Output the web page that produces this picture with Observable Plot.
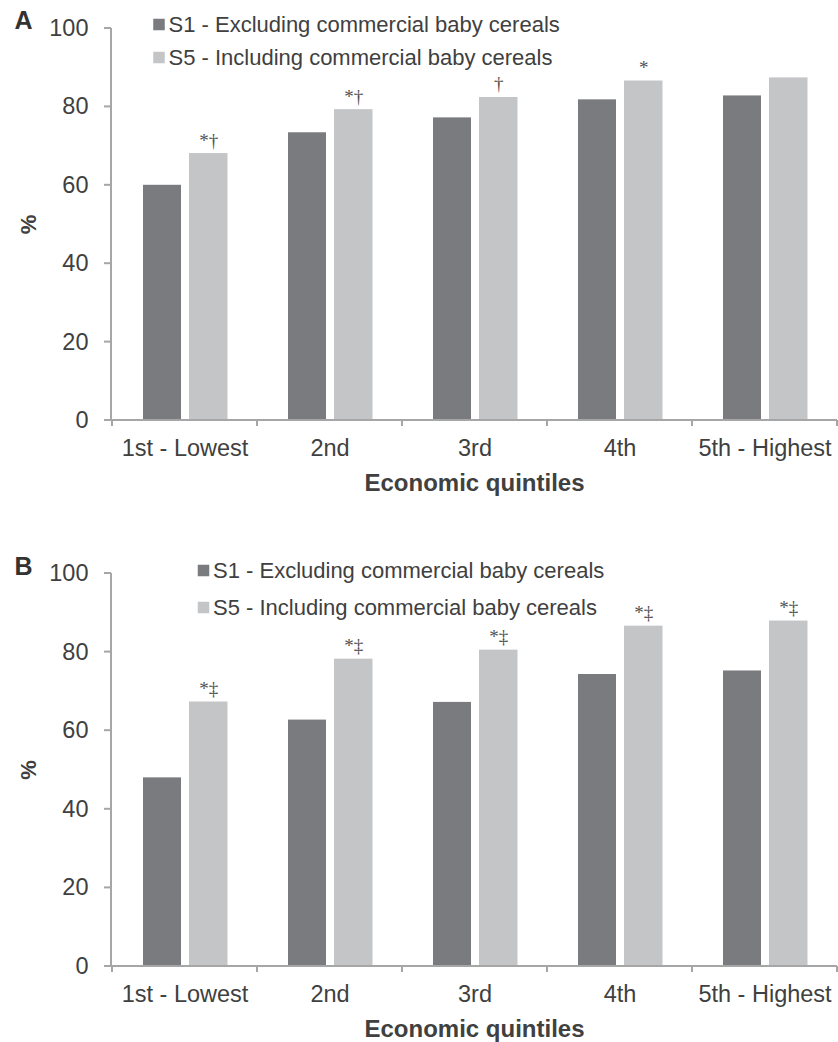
<!DOCTYPE html>
<html>
<head>
<meta charset="utf-8">
<script src="https://cdn.jsdelivr.net/npm/d3@7"></script>
<script src="https://cdn.jsdelivr.net/npm/@observablehq/plot@0.6"></script>
<style>
  html, body { margin: 0; padding: 0; background: #fff; }
  #chart { width: 838px; }
  #chart svg { display: block; }
</style>
</head>
<body>
<div id="chart"></div>
<script>
// ---- data ----
const quintiles = ["1st - Lowest", "2nd", "3rd", "4th", "5th - Highest"];
const seriesNames = ["S1 - Excluding commercial baby cereals", "S5 - Including commercial baby cereals"];
const yTicks = [0, 20, 40, 60, 80, 100];
const panelA_S1 = [60.0, 73.4, 77.2, 81.8, 82.8];
const panelA_S5 = [68.1, 79.3, 82.4, 86.6, 87.4];
const panelA_marks = ["*†", "*†", "†", "*", ""];
const panelB_S1 = [48.0, 62.7, 67.2, 74.3, 75.2];
const panelB_S5 = [67.3, 78.2, 80.5, 86.6, 87.9];
const panelB_marks = ["*‡", "*‡", "*‡", "*‡", "*‡"];
const xTitle = "Economic quintiles";
const yTitle = "%";

// ---- style ----
const C1 = "#7a7b7f", C5 = "#c4c5c7", AXIS = "#a6a6a6", TEXT = "#404040";
const FONT = "'Liberation Sans', Arial, sans-serif";
const SERIF = "'Liberation Serif', 'Times New Roman', serif";

function axisLines(index, scales, values, dims) {
  const x = scales.x, y = scales.y;
  const bw = x.bandwidth();
  const left = dims.marginLeft, right = dims.width - dims.marginRight;
  const g = d3.create("svg:g").attr("stroke", AXIS).attr("stroke-width", 2).attr("fill", "none");
  g.append("line").attr("x1", left).attr("x2", left).attr("y1", y(100)).attr("y2", y(0));
  for (const t of yTicks) {
    g.append("line").attr("x1", left - 7).attr("x2", left).attr("y1", y(t)).attr("y2", y(t));
  }
  g.append("line").attr("x1", left - 7).attr("x2", right).attr("y1", y(0)).attr("y2", y(0));
  const bounds = quintiles.map(q => x(q)).concat([x(quintiles[quintiles.length - 1]) + bw]);
  for (const b of bounds) {
    g.append("line").attr("x1", b).attr("x2", b).attr("y1", y(0)).attr("y2", y(0) + 6);
  }
  return g.node();
}

function panel(label, s1, s5, marks, opts) {
  const rows = quintiles.map((q, i) => ({q, s1: s1[i], s5: s5[i], mark: marks[i]}));
  return Plot.plot({
    width: 838,
    height: opts.height,
    marginLeft: 111,
    marginRight: 1,
    marginTop: opts.marginTop,
    marginBottom: opts.marginBottom,
    style: {fontFamily: FONT, color: TEXT, background: "#fff", overflow: "visible"},
    x: {type: "band", domain: quintiles, padding: 0, axis: null},
    y: {domain: [0, 100], axis: null},
    marks: [
      Plot.barY(rows, {x: "q", y: "s5", fill: C5, insetLeft: 77, insetRight: 29.5}),
      Plot.barY(rows, {x: "q", y: "s1", fill: C1, insetLeft: 31, insetRight: 76}),
      axisLines,
      Plot.text(rows, {x: "q", y: "s5", text: "mark", dx: 23.8, dy: -7, lineAnchor: "bottom", fontSize: 19, fontFamily: SERIF, fill: "#505050"}),
      // y tick labels
      Plot.text(yTicks, {y: d => d, text: d => String(d), frameAnchor: "left", dx: -23, textAnchor: "end", lineAnchor: "middle", fontSize: 23.5, fill: TEXT}),
      // x tick labels
      Plot.text(quintiles, {x: d => d, text: d => d, frameAnchor: "bottom", dy: 28, lineAnchor: "middle", fontSize: 23.5, fill: TEXT}),
      // axis titles
      Plot.text([xTitle], {frameAnchor: "bottom", dy: 63, lineAnchor: "middle", textAnchor: "middle", fontSize: 24, fontWeight: "bold", fill: TEXT}),
      Plot.text([yTitle], {frameAnchor: "left", dx: -83, rotate: -90, textAnchor: "middle", lineAnchor: "middle", fontSize: 22, fontWeight: "bold", fill: TEXT}),
      // panel label
      Plot.text([label], {frameAnchor: "top-left", dx: -88, dy: opts.labelDy, textAnchor: "middle", lineAnchor: "middle", fontSize: 25, fontWeight: "bold", fill: "#333"}),
      // legend
      Plot.dot([seriesNames[0]], {frameAnchor: "top-left", dx: opts.legDx, dy: opts.leg1Dy, symbol: "square", r: 6.5, fill: C1, stroke: null}),
      Plot.dot([seriesNames[1]], {frameAnchor: "top-left", dx: opts.legDx, dy: opts.leg2Dy, symbol: "square", r: 6.5, fill: C5, stroke: null}),
      Plot.text([seriesNames[0]], {frameAnchor: "top-left", dx: opts.legDx + 9.5, dy: opts.leg1Dy, textAnchor: "start", lineAnchor: "middle", fontSize: 22, fill: TEXT}),
      Plot.text([seriesNames[1]], {frameAnchor: "top-left", dx: opts.legDx + 9.5, dy: opts.leg2Dy, textAnchor: "start", lineAnchor: "middle", fontSize: 22, fill: TEXT})
    ]
  });
}

const chart = document.getElementById("chart");
chart.append(panel("A", panelA_S1, panelA_S5, panelA_marks,
  {height: 520, marginTop: 28, marginBottom: 100, labelDy: -8, legDx: 47.5, leg1Dy: -4, leg2Dy: 29}));
chart.append(panel("B", panelB_S1, panelB_S5, panelB_marks,
  {height: 522, marginTop: 53, marginBottom: 76, labelDy: -6.5, legDx: 92, leg1Dy: -3, leg2Dy: 34}));
</script>
</body>
</html>
